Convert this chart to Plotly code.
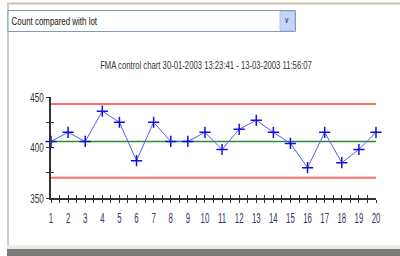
import plotly.graph_objects as go

# ---- data ----
samples = list(range(1, 21))
values = [406, 415, 406, 436, 425, 387, 425, 406, 406, 415,
          398, 418, 427, 415, 404, 380, 415, 385, 398, 415]
ucl_value = 443
center_value = 406
lcl_value = 370
x_tick_labels = [str(i) for i in samples]
y_tick_values = [350, 400, 450]
title_text = "FMA control chart 30-01-2003 13:23:41 - 13-03-2003 11:56:07"
dropdown_text = "Count compared with lot"

W, H = 400, 256
L, R, T, B = 51, 24, 97, 58
PW, PH = W - L - R, H - T - B

def px(x):
    return (x - L) / PW

def py(y):
    return 1 - (y - T) / PH

FONT = "Liberation Sans, Arial, sans-serif"

fig = go.Figure()
n = len(samples)
fig.add_trace(go.Scatter(x=samples, y=[ucl_value] * n, mode="lines",
                         line=dict(color="#ff6b6b", width=2), hoverinfo="skip"))
fig.add_trace(go.Scatter(x=samples, y=[lcl_value] * n, mode="lines",
                         line=dict(color="#ff6b6b", width=2), hoverinfo="skip"))
fig.add_trace(go.Scatter(x=samples, y=[center_value] * n, mode="lines",
                         line=dict(color="#2f8a2f", width=1.5), hoverinfo="skip"))
fig.add_trace(go.Scatter(x=samples, y=values, mode="lines+markers",
                         line=dict(color="#5a5aff", width=1),
                         marker=dict(symbol="cross-thin", size=8,
                                     line=dict(color="#1010e0", width=1.5)),
                         cliponaxis=False))

axis_common = dict(showgrid=False, zeroline=False, showline=True,
                   linecolor="#333333", linewidth=1.5,
                   tickcolor="#333333", tickwidth=1)

fig.update_layout(
    width=W, height=H,
    margin=dict(l=L, r=R, t=T, b=B),
    paper_bgcolor="white", plot_bgcolor="white",
    showlegend=False,
    title=dict(text=title_text, x=206 / W, xanchor="center", y=1 - 65 / H,
               yanchor="middle", font=dict(family=FONT, size=11, color="#333333")),
    xaxis=dict(range=[1, 20], tickvals=samples, ticktext=x_tick_labels,
               ticks="outside", ticklen=3, ticklabelstandoff=3, tickangle=0,
               minor=dict(dtick=0.5, ticks="outside", ticklen=3, tickcolor="#333333"),
               tickfont=dict(family=FONT, size=14, color="#3a3466"),
               **axis_common),
    yaxis=dict(range=[350, 450], tickvals=y_tick_values,
               ticks="outside", ticklen=3,
               minor=dict(dtick=25, ticks="outside", ticklen=3, tickcolor="#333333"),
               tickfont=dict(family=FONT, size=13, color="#333333"),
               **axis_common),
    xaxis2=dict(range=[1, 20], overlaying="x", anchor="y", side="bottom",
                tickvals=samples, showticklabels=False, ticks="inside", ticklen=3,
                minor=dict(dtick=0.5, ticks="inside", ticklen=3, tickcolor="#333333"),
                **axis_common),
    yaxis2=dict(range=[350, 450], overlaying="y", anchor="x", side="left",
                tickvals=y_tick_values, showticklabels=False, ticks="inside", ticklen=3,
                minor=dict(dtick=25, ticks="inside", ticklen=3, tickcolor="#333333"),
                **axis_common),
)
# invisible trace to activate overlay axes
fig.add_trace(go.Scatter(x=[1], y=[350], xaxis="x2", yaxis="y2", mode="markers",
                         marker=dict(opacity=0), hoverinfo="skip"))

shapes = [
    dict(type="line", x0=px(7), x1=px(400), y0=py(3.5), y1=py(3.5),
         line=dict(color="#c9c1b0", width=2)),
    dict(type="line", x0=px(8), x1=px(8), y0=py(3), y1=py(247),
         line=dict(color="#cfcdc4", width=2)),
    dict(type="rect", x0=px(7), x1=px(400), y0=py(245.5), y1=py(249),
         fillcolor="#ebe9e0", line=dict(width=0)),
    dict(type="rect", x0=px(7), x1=px(400), y0=py(249), y1=py(256),
         fillcolor="#7a7a7a", line=dict(width=0)),
    dict(type="rect", x0=px(8), x1=px(295.5), y0=py(10.5), y1=py(31.5),
         fillcolor="white", line=dict(color="#7f9db9", width=1)),
    dict(type="rect", x0=px(280), x1=px(294.5), y0=py(11.5), y1=py(30.5),
         fillcolor="#c6d6fb", line=dict(color="#b0c4f0", width=1)),
]
for s in shapes:
    s.update(xref="paper", yref="paper", layer="above")
fig.update_layout(shapes=shapes)

fig.add_annotation(text=dropdown_text, xref="paper", yref="paper",
                   x=px(54.5), y=py(21), xanchor="center", yanchor="middle",
                   showarrow=False, font=dict(family=FONT, size=11, color="#111111"))
fig.add_annotation(text="<b>v</b>", xref="paper", yref="paper",
                   x=px(287.3), y=py(20.5), xanchor="center", yanchor="middle",
                   showarrow=False, font=dict(family="DejaVu Sans", size=8, color="#4d6185"))

post = """
document.body.style.margin='0px';
var gd = document.getElementById('{plot_id}');
function squeeze(sel, f){
  gd.querySelectorAll(sel).forEach(function(t){
    var len = t.getComputedTextLength();
    if (len > 0) {
      t.setAttribute('textLength', len * f);
      t.setAttribute('lengthAdjust', 'spacingAndGlyphs');
    }
  });
}
squeeze('.xtick text', 0.56);
squeeze('.ytick text', 0.62);
squeeze('text.gtitle', 0.7);
squeeze('text.annotation-text', 0.72);
"""

fig.write_html("out.html", post_script=post, config={"displayModeBar": False})
